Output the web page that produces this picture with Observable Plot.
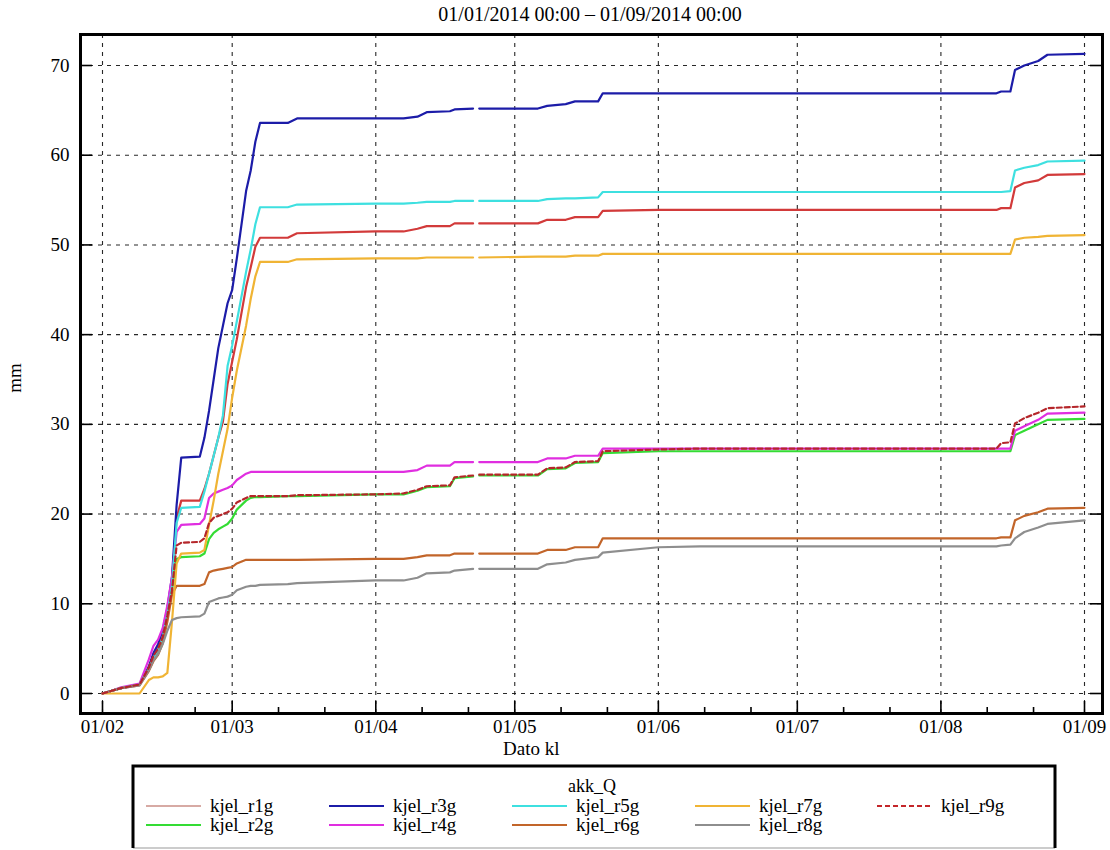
<!DOCTYPE html>
<html>
<head>
<meta charset="utf-8">
<script src="https://cdn.jsdelivr.net/npm/d3@7"></script>
<script src="https://cdn.jsdelivr.net/npm/@observablehq/plot@0.6"></script>
<style>
  html, body { margin: 0; padding: 0; background: #fff; }
  body { width: 1110px; height: 850px; position: relative; overflow: hidden;
         font-family: "Liberation Serif", "Times New Roman", "DejaVu Serif", serif; color: #000; }
  #title { position: absolute; left: 590px; top: 3px; transform: translateX(-50%);
           font-size: 20px; white-space: nowrap; }
  #chart { position: absolute; left: 0; top: 0; }
  #xlabel { position: absolute; left: 503px; top: 739px; font-size: 19px; line-height: 19px; }
  #ylabel { position: absolute; left: 15px; top: 378px; font-size: 19px;
            transform: translate(-50%, -50%) rotate(-90deg); }
  #legend { position: absolute; left: 0; top: 0; }
</style>
</head>
<body>
<div id="title">01/01/2014 00:00 – 01/09/2014 00:00</div>
<div id="chart"></div>
<div id="xlabel">Dato kl</div>
<div id="ylabel">mm</div>
<svg id="legend" width="1110" height="850"></svg>
<script>
// ---------------- data ----------------
const dates = [
  "2014-02-01","2014-02-03","2014-02-05","2014-02-09","2014-02-11","2014-02-12",
  "2014-02-13","2014-02-14","2014-02-15","2014-02-16","2014-02-17","2014-02-18",
  "2014-02-22","2014-02-23","2014-02-24","2014-02-25","2014-02-26","2014-02-27",
  "2014-02-28","2014-03-01","2014-03-02","2014-03-04","2014-03-05","2014-03-06",
  "2014-03-07","2014-03-13","2014-03-15","2014-04-01","2014-04-07","2014-04-10",
  "2014-04-12","2014-04-17","2014-04-18","2014-04-22","2014-04-22T16:00Z","2014-04-23T08:00Z",
  "2014-05-06","2014-05-08","2014-05-12","2014-05-14","2014-05-19","2014-05-20",
  "2014-06-01","2014-06-10","2014-08-13","2014-08-14","2014-08-16","2014-08-17",
  "2014-08-19","2014-08-22","2014-08-24","2014-09-01"
];

const kjel_r1g = [0,0.3,0.6,1.0,2.9,4.3,5.0,6.5,9.0,12.5,19.5,21.5,
  21.5,22.8,24.5,26.5,28.5,30.3,34.5,37.0,39.5,45.3,47.5,49.8,50.8,
  50.8,51.3,51.5,51.5,51.8,52.1,52.1,52.4,52.4,null,52.4,52.4,52.8,52.8,53.1,53.1,53.8,53.9,53.9,53.9,54.1,54.1,56.4,56.9,57.2,57.8,57.9];
const kjel_r2g = [0,0.3,0.6,1.0,2.7,3.8,4.6,6.0,8.5,11.5,15.0,15.2,
  15.3,15.6,17.2,17.9,18.3,18.6,18.9,19.5,20.5,21.5,21.8,21.9,21.9,
  22.0,22.0,22.2,22.2,22.6,23.0,23.1,24.0,24.2,null,24.3,24.3,25.0,25.1,25.7,25.8,26.8,27.0,27.0,27.0,27.0,27.0,28.8,29.3,30.0,30.5,30.6];
const kjel_r3g = [0,0.3,0.6,1.0,3.0,4.5,5.5,7.0,9.5,13.0,21.0,26.3,
  26.4,28.5,31.5,35.0,38.5,41.0,43.5,45.0,48.5,56.0,58.3,61.5,63.6,
  63.6,64.1,64.1,64.1,64.3,64.8,64.9,65.1,65.2,null,65.2,65.2,65.5,65.7,66.0,66.0,66.9,66.9,66.9,66.9,67.1,67.1,69.5,70.0,70.5,71.2,71.3];
const kjel_r4g = [0,0.3,0.7,1.1,3.8,5.3,6.0,7.3,9.8,13.0,18.0,18.8,
  18.9,19.5,21.8,22.3,22.5,22.7,22.9,23.2,23.8,24.5,24.7,24.7,24.7,
  24.7,24.7,24.7,24.7,24.9,25.4,25.4,25.8,25.8,null,25.8,25.8,26.2,26.2,26.5,26.5,27.3,27.3,27.3,27.3,27.3,27.3,29.3,29.8,30.5,31.2,31.3];
const kjel_r5g = [0,0.3,0.6,1.0,2.8,4.0,4.8,6.3,8.8,12.0,19.0,20.7,
  20.8,22.5,24.5,26.5,28.5,31.0,36.5,38.8,41.5,47.0,49.5,52.3,54.2,
  54.2,54.5,54.6,54.6,54.7,54.8,54.8,54.9,54.9,null,54.9,54.9,55.1,55.2,55.2,55.3,55.9,55.9,55.9,55.9,55.9,56.0,58.3,58.6,58.9,59.3,59.4];
const kjel_r6g = [0,0.3,0.6,0.9,2.5,3.6,4.3,5.6,8.0,11.0,12.0,12.0,
  12.0,12.2,13.5,13.7,13.8,13.9,14.0,14.1,14.5,14.9,14.9,14.9,14.9,
  14.9,14.9,15.0,15.0,15.2,15.4,15.4,15.6,15.6,null,15.6,15.6,16.0,16.0,16.3,16.3,17.3,17.3,17.3,17.3,17.4,17.4,19.3,19.8,20.2,20.6,20.7];
const kjel_r7g = [0,0,0,0,1.5,1.8,1.8,1.9,2.3,8.0,14.5,15.6,
  15.7,16.0,18.8,21.5,24.5,27.0,29.5,33.0,36.0,41.0,44.0,46.5,48.1,
  48.1,48.4,48.5,48.5,48.5,48.6,48.6,48.6,48.6,null,48.6,48.7,48.7,48.7,48.8,48.8,49.0,49.0,49.0,49.0,49.0,49.0,50.6,50.8,50.9,51.0,51.1];
const kjel_r8g = [0,0.3,0.6,0.9,2.6,3.7,4.4,5.5,7.0,8.2,8.4,8.5,
  8.6,8.9,10.2,10.4,10.6,10.7,10.8,11.0,11.5,11.9,12.0,12.0,12.1,
  12.2,12.3,12.6,12.6,12.9,13.4,13.5,13.7,13.9,null,13.9,13.9,14.4,14.6,14.9,15.2,15.7,16.3,16.4,16.4,16.5,16.6,17.3,18.0,18.5,18.9,19.3];
const kjel_r9g = [0,0.3,0.6,1.0,2.9,4.2,5.0,6.3,8.7,11.5,16.5,16.8,
  16.9,17.3,19.0,19.6,19.8,20.0,20.2,20.6,21.3,21.8,22.0,22.0,22.0,
  22.0,22.1,22.2,22.3,22.7,23.1,23.2,24.1,24.3,null,24.4,24.4,25.1,25.2,25.8,25.9,27.0,27.2,27.3,27.3,27.9,28.0,30.1,30.7,31.3,31.8,32.0];

const seriesNames = ["kjel_r1g","kjel_r2g","kjel_r3g","kjel_r4g","kjel_r5g","kjel_r6g","kjel_r7g","kjel_r8g","kjel_r9g"];
const seriesValues = [kjel_r1g,kjel_r2g,kjel_r3g,kjel_r4g,kjel_r5g,kjel_r6g,kjel_r7g,kjel_r8g,kjel_r9g];
const seriesColors = ["#d23a3a","#34dc34","#1c1ca8","#e02ee0","#3ee0e0","#c2652a","#f0b434","#8e8e8e","#b5262a"];
const legendSwatchColors = ["#d7aaa4","#34dc34","#1c1ca8","#e02ee0","#3ee0e0","#c2652a","#f0b434","#8e8e8e","#c4262a"];
const seriesDash = [null,null,null,null,null,null,null,null,"5,3"];
const legendTitle = "akk_Q";

const monthTickDates = ["2014-02-01","2014-03-01","2014-04-01","2014-05-01","2014-06-01","2014-07-01","2014-08-01","2014-09-01"];
const minorTickDates = ["2014-02-11","2014-02-21","2014-03-11","2014-03-21","2014-04-11","2014-04-21",
  "2014-05-11","2014-05-21","2014-06-11","2014-06-21","2014-07-11","2014-07-21","2014-08-11","2014-08-21"];
const yTickValues = [0,10,20,30,40,50,60,70];

// ---------------- chart ----------------
const parse = d3.isoParse;
const monthTicks = monthTickDates.map(parse);
const minorTicks = minorTickDates.map(parse);

const W = 1110, H = 765, mL = 80, mR = 8, mT = 34, mB = 52;
const innerW = W - mL - mR, innerH = H - mT - mB;
const majorLen = 12, minorLen = 6;

const lineMarks = seriesNames.map((name, i) => {
  const rows = dates.map((d, j) => ({date: parse(d), value: seriesValues[i][j]}));
  return Plot.line(rows, {
    x: "date", y: "value",
    stroke: seriesColors[i], strokeWidth: 2.2,
    strokeDasharray: seriesDash[i] || undefined
  });
});

const gridStyle = {stroke: "#111", strokeOpacity: 0.9, strokeWidth: 1.1, strokeDasharray: "4,5"};
const font = '"Liberation Serif", "Times New Roman", "DejaVu Serif", serif';

const chart = Plot.plot({
  width: W, height: H,
  marginLeft: mL, marginRight: mR, marginTop: mT, marginBottom: mB,
  style: {fontFamily: font, fontSize: "19px", color: "#000", background: "transparent", overflow: "visible"},
  x: {type: "utc", domain: [monthTicks[0], monthTicks[monthTicks.length - 1]], insetLeft: 22, insetRight: 18},
  y: {domain: [0, 70], insetTop: 31, insetBottom: 20},
  marks: [
    Plot.gridX(monthTicks, gridStyle),
    Plot.gridY(yTickValues, gridStyle),
    ...lineMarks,
    // inward ticks
    Plot.tickX(monthTicks, {x: d => d, stroke: "#000", strokeWidth: 1.6, insetTop: innerH - majorLen}),
    Plot.tickX(minorTicks, {x: d => d, stroke: "#000", strokeWidth: 1.6, insetTop: innerH - minorLen}),
    Plot.tickY(yTickValues, {y: d => d, stroke: "#000", strokeWidth: 1.6, insetRight: innerW - majorLen}),
    Plot.tickY(yTickValues, {y: d => d, stroke: "#000", strokeWidth: 1.6, insetLeft: innerW - majorLen}),
    Plot.axisX(monthTicks, {anchor: "bottom", tickSize: 0, tickPadding: 6, tickFormat: d3.utcFormat("%d/%m"), label: null, fontSize: 19}),
    Plot.axisY(yTickValues, {anchor: "left", tickSize: 0, tickPadding: 11, label: null, fontSize: 19}),
    Plot.frame({stroke: "#000", strokeWidth: 3})
  ]
});
document.getElementById("chart").appendChild(chart);

// ---------------- legend ----------------
const svg = d3.select("#legend");
const box = {x0: 133, x1: 1055, y0: 766, y1: 848};
svg.append("line").attr("x1", box.x0).attr("x2", box.x1).attr("y1", box.y1).attr("y2", box.y1)
  .attr("stroke", "#999").attr("stroke-width", 1);
svg.append("path")
  .attr("d", `M${box.x0},${box.y1}V${box.y0}H${box.x1}V${box.y1}`)
  .attr("fill", "none").attr("stroke", "#000").attr("stroke-width", 3);
svg.append("text").attr("x", 592).attr("y", 792).attr("text-anchor", "middle")
  .attr("font-size", 18).attr("font-family", font).text(legendTitle);

const colX = [146, 329, 512, 695, 877];
const rowY = [806, 825];
seriesNames.forEach((name, i) => {
  const c = Math.floor(i / 2), r = i % 2;
  const x = colX[c], y = rowY[r];
  svg.append("line").attr("x1", x).attr("x2", x + 55).attr("y1", y).attr("y2", y)
    .attr("stroke", legendSwatchColors[i]).attr("stroke-width", 2.2)
    .attr("stroke-dasharray", seriesDash[i]);
  svg.append("text").attr("x", x + 64).attr("y", y + 6)
    .attr("font-size", 19).attr("font-family", font).text(name);
});
</script>
</body>
</html>
